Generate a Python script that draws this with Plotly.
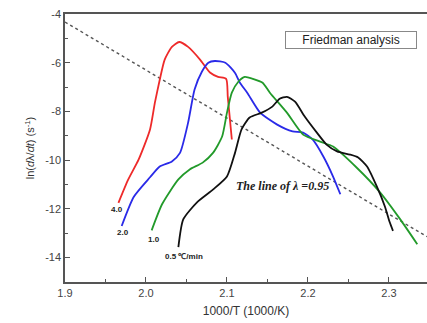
import plotly.graph_objects as go

# Heating-rate curves: x = 1000/T, y = ln(dλ/dt)
x_40 = [1.966, 1.978, 1.991, 2.005, 2.011, 2.017, 2.023, 2.032, 2.041, 2.052, 2.067, 2.079, 2.089, 2.099, 2.101, 2.106]
y_40 = [-11.75, -10.8, -9.97, -8.74, -7.64, -6.7, -5.88, -5.35, -5.15, -5.35, -5.88, -6.4, -6.58, -6.66, -7.4, -9.15]

x_20 = [1.970, 1.985, 2.005, 2.017, 2.032, 2.042, 2.052, 2.060, 2.069, 2.077, 2.085, 2.098, 2.110, 2.116, 2.125, 2.141, 2.162, 2.181, 2.194, 2.206, 2.219, 2.231, 2.240]
y_20 = [-12.7, -11.5, -10.7, -10.26, -10.05, -9.7, -8.46, -7.1, -6.37, -6.0, -5.93, -6.0, -6.42, -6.82, -7.23, -8.05, -8.54, -8.82, -8.87, -9.16, -9.85, -10.67, -11.4]

x_10 = [2.007, 2.020, 2.040, 2.054, 2.070, 2.083, 2.094, 2.100, 2.106, 2.114, 2.122, 2.132, 2.144, 2.153, 2.174, 2.194, 2.215, 2.231, 2.260, 2.289, 2.314, 2.335]
y_10 = [-12.88, -11.8, -10.79, -10.38, -10.1, -9.69, -9.03, -8.05, -7.23, -6.78, -6.58, -6.66, -6.82, -7.23, -8.05, -8.95, -9.24, -9.44, -10.3, -11.32, -12.43, -13.45]

x_05 = [2.040, 2.046, 2.063, 2.083, 2.100, 2.110, 2.118, 2.128, 2.143, 2.156, 2.165, 2.174, 2.184, 2.196, 2.211, 2.223, 2.236, 2.252, 2.262, 2.273, 2.285, 2.295, 2.301, 2.305]
y_05 = [-13.57, -12.43, -11.73, -11.2, -10.67, -9.69, -8.74, -8.25, -8.05, -7.8, -7.48, -7.4, -7.6, -8.21, -8.87, -9.36, -9.64, -9.77, -9.89, -10.26, -11.08, -11.9, -12.55, -12.9]

# Line of λ = 0.95
x_lam = [1.9, 2.347]
y_lam = [-4.33, -13.14]

rate_labels = ["4.0", "2.0", "1.0", "0.5 ℃/min"]
rate_label_x = [1.964, 1.972, 2.010, 2.047]
rate_label_y = [-12.02, -12.96, -13.24, -13.94]

x_ticks = [1.9, 2.0, 2.1, 2.2, 2.3]
x_ticktext = ["1.9", "2.0", "2.1", "2.2", "2.3"]
y_ticks = [-14, -12, -10, -8, -6, -4]
y_ticktext = ["-14", "-12", "-10", "-8", "-6", "-4"]

fig = go.Figure()
fig.add_trace(go.Scatter(x=x_lam, y=y_lam, mode="lines",
                         line=dict(color="#555555", width=1.4, dash="dot"), showlegend=False))
for xs, ys, c in [(x_40, y_40, "#ee2a2a"), (x_20, y_20, "#2a2ae8"),
                  (x_10, y_10, "#229a2a"), (x_05, y_05, "#111111")]:
    fig.add_trace(go.Scatter(x=xs, y=ys, mode="lines",
                             line=dict(color=c, width=1.8, shape="spline", smoothing=0.6),
                             showlegend=False))

for t, xx, yy in zip(rate_labels, rate_label_x, rate_label_y):
    fig.add_annotation(x=xx, y=yy, text="<b>" + t + "</b>", showarrow=False,
                       font=dict(family="Arial", size=8, color="#222222"))

fig.add_annotation(x=2.169, y=-11.07, text="<b><i>The line of λ =0.95</i></b>", showarrow=False,
                   font=dict(family="Liberation Serif", size=12, color="#222222"))

fig.add_annotation(xref="paper", yref="paper", x=(351 - 65) / 362, y=(282 - 40) / 268,
                   xanchor="center", yanchor="middle",
                   text="Friedman analysis", showarrow=False,
                   font=dict(family="Arial", size=12, color="#222222"),
                   bgcolor="white", bordercolor="#888888", borderwidth=1,
                   width=128, height=14)

axis_common = dict(showgrid=False, zeroline=False, showline=True, linecolor="#555555",
                   linewidth=1.5, ticks="inside", ticklen=5, tickcolor="#555555",
                   tickfont=dict(family="Arial", size=11, color="#444444"))

fig.update_xaxes(range=[1.9, 2.347], tickvals=x_ticks, ticktext=x_ticktext, mirror=True,
                 minor=dict(ticks="inside", ticklen=3, dtick=0.05, tick0=1.9, tickcolor="#555555"),
                 title=dict(text="1000/T (1000/K)", font=dict(family="Arial", size=12, color="#333333"), standoff=9),
                 **axis_common)
fig.update_yaxes(range=[-15, -4], tickvals=y_ticks, ticktext=y_ticktext, mirror=False,
                 minor=dict(ticks="inside", ticklen=3, dtick=1, tick0=-4, tickcolor="#555555"),
                 title=dict(text="ln(<i>d</i>λ/<i>dt</i>) (s<sup>-1</sup>)", font=dict(family="Arial", size=11, color="#333333"), standoff=8),
                 **axis_common)

fig.update_layout(width=427, height=323, margin=dict(l=65, r=0, t=14, b=41),
                  paper_bgcolor="white", plot_bgcolor="white")

fig.write_html("out.html")
